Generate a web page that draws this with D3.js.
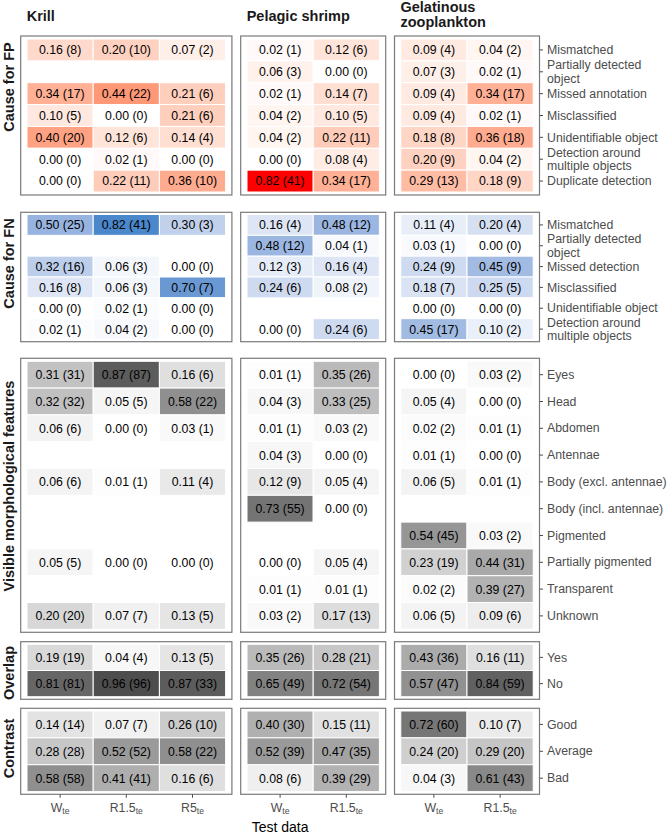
<!DOCTYPE html>
<html><head><meta charset="utf-8">
<script src="https://cdn.jsdelivr.net/npm/d3@7"></script>
<style>body{margin:0;background:#fff}svg{display:block;font-family:"Liberation Sans",Arial,Helvetica,sans-serif}</style>
</head><body><svg id="chart" width="670" height="834"></svg>
<script>
// ---------- DATA ----------
const species = ["Krill", "Pelagic shrimp", "Gelatinous zooplankton"];
const krillTests = ["W", "R1.5", "R5"];
const shrimpTests = ["W", "R1.5"];
const gelTests = ["W", "R1.5"];
const testSubscript = "te";

const fpCauses = ["Mismatched", "Partially detected object", "Missed annotation", "Misclassified", "Unidentifiable object", "Detection around multiple objects", "Duplicate detection"];
const fnCauses = ["Mismatched", "Partially detected object", "Missed detection", "Misclassified", "Unidentifiable object", "Detection around multiple objects"];
const morphFeatures = ["Eyes", "Head", "Abdomen", "Antennae", "Body (excl. antennae)", "Body (incl. antennae)", "Pigmented", "Partially pigmented", "Transparent", "Unknown"];
const overlapLevels = ["Yes", "No"];
const contrastLevels = ["Good", "Average", "Bad"];

// Cause for FP (rows = causes, cols = test sets); null = no tile
const fpKrillProp = [[0.16,0.20,0.07],[null,null,null],[0.34,0.44,0.21],[0.10,0.00,0.21],[0.40,0.12,0.14],[0.00,0.02,0.00],[0.00,0.22,0.36]];
const fpKrillN    = [[8,10,2],[null,null,null],[17,22,6],[5,0,6],[20,6,4],[0,1,0],[0,11,10]];
const fpShrimpProp = [[0.02,0.12],[0.06,0.00],[0.02,0.14],[0.04,0.10],[0.04,0.22],[0.00,0.08],[0.82,0.34]];
const fpShrimpN    = [[1,6],[3,0],[1,7],[2,5],[2,11],[0,4],[41,17]];
const fpGelProp = [[0.09,0.04],[0.07,0.02],[0.09,0.34],[0.09,0.02],[0.18,0.36],[0.20,0.04],[0.29,0.18]];
const fpGelN    = [[4,2],[3,1],[4,17],[4,1],[8,18],[9,2],[13,9]];

// Cause for FN
const fnKrillProp = [[0.50,0.82,0.30],[null,null,null],[0.32,0.06,0.00],[0.16,0.06,0.70],[0.00,0.02,0.00],[0.02,0.04,0.00]];
const fnKrillN    = [[25,41,3],[null,null,null],[16,3,0],[8,3,7],[0,1,0],[1,2,0]];
const fnShrimpProp = [[0.16,0.48],[0.48,0.04],[0.12,0.16],[0.24,0.08],[null,null],[0.00,0.24]];
const fnShrimpN    = [[4,12],[12,1],[3,4],[6,2],[null,null],[0,6]];
const fnGelProp = [[0.11,0.20],[0.03,0.00],[0.24,0.45],[0.18,0.25],[0.00,0.00],[0.45,0.10]];
const fnGelN    = [[4,4],[1,0],[9,9],[7,5],[0,0],[17,2]];

// Visible morphological features
const morphKrillProp = [[0.31,0.87,0.16],[0.32,0.05,0.58],[0.06,0.00,0.03],[null,null,null],[0.06,0.01,0.11],[null,null,null],[null,null,null],[0.05,0.00,0.00],[null,null,null],[0.20,0.07,0.13]];
const morphKrillN    = [[31,87,6],[32,5,22],[6,0,1],[null,null,null],[6,1,4],[null,null,null],[null,null,null],[5,0,0],[null,null,null],[20,7,5]];
const morphShrimpProp = [[0.01,0.35],[0.04,0.33],[0.01,0.03],[0.04,0.00],[0.12,0.05],[0.73,0.00],[null,null],[0.00,0.05],[0.01,0.01],[0.03,0.17]];
const morphShrimpN    = [[1,26],[3,25],[1,2],[3,0],[9,4],[55,0],[null,null],[0,4],[1,1],[2,13]];
const morphGelProp = [[0.00,0.03],[0.05,0.00],[0.02,0.01],[0.01,0.00],[0.06,0.01],[null,null],[0.54,0.03],[0.23,0.44],[0.02,0.39],[0.06,0.09]];
const morphGelN    = [[0,2],[4,0],[2,1],[1,0],[5,1],[null,null],[45,2],[19,31],[2,27],[5,6]];

// Overlap
const overlapKrillProp = [[0.19,0.04,0.13],[0.81,0.96,0.87]];
const overlapKrillN    = [[19,4,5],[81,96,33]];
const overlapShrimpProp = [[0.35,0.28],[0.65,0.72]];
const overlapShrimpN    = [[26,21],[49,54]];
const overlapGelProp = [[0.43,0.16],[0.57,0.84]];
const overlapGelN    = [[36,11],[47,59]];

// Contrast
const contrastKrillProp = [[0.14,0.07,0.26],[0.28,0.52,0.58],[0.58,0.41,0.16]];
const contrastKrillN    = [[14,7,10],[28,52,22],[58,41,6]];
const contrastShrimpProp = [[0.40,0.15],[0.52,0.47],[0.08,0.39]];
const contrastShrimpN    = [[30,11],[39,35],[6,29]];
const contrastGelProp = [[0.72,0.10],[0.24,0.29],[0.04,0.61]];
const contrastGelN    = [[60,7],[20,20],[3,43]];

// ---------- LAYOUT ----------
const svg = d3.select("#chart");
const FONT_CELL = 12.3, FONT_AXIS = 12.3, FONT_STRIP = 14.5;
const AXIS_GREY = "#4d4d4d", BORDER = "#7a7a7a";
const colW = 66.2, padX = 6.3, gapX = 8.8, leftX = 20.7;

const speciesTests = [krillTests, shrimpTests, gelTests];
let cx = leftX;
const cols = species.map((s, i) => {
  const w = speciesTests[i].length * colW + 2 * padX;
  const c = {name: s, tests: speciesTests[i], x0: cx, x1: cx + w};
  c.x = d3.scaleBand().domain(c.tests).range([c.x0 + padX, c.x1 - padX]);
  cx += w + gapX;
  return c;
});

const flat = arrs => arrs.flat(2).filter(v => v != null);
const fpMax = d3.max(flat([fpKrillProp, fpShrimpProp, fpGelProp]));
const fnMax = d3.max(flat([fnKrillProp, fnShrimpProp, fnGelProp]));
const greyMax = d3.max(flat([morphKrillProp, morphShrimpProp, morphGelProp, overlapKrillProp, overlapShrimpProp, overlapGelProp, contrastKrillProp, contrastShrimpProp, contrastGelProp]));
const redScale = d3.scaleLinear().domain([0, fpMax]).range(["#ffffff", "#ff0000"]).interpolate(d3.interpolateLab);
const blueScale = d3.scaleLinear().domain([0, fnMax]).range(["#ffffff", "#4a87cb"]).interpolate(d3.interpolateLab);
const greyScale = d3.scaleLinear().domain([0, greyMax]).range(["#ffffff", "#4d4d4d"]).interpolate(d3.interpolateLab);

const rows = [
  {label: "Cause for FP", labelY: 87, levels: fpCauses, top: 36, bottom: 195, pad: 3, color: redScale,
   props: [fpKrillProp, fpShrimpProp, fpGelProp], ns: [fpKrillN, fpShrimpN, fpGelN]},
  {label: "Cause for FN", labelY: 263.5, levels: fnCauses, top: 212.3, bottom: 341.7, pad: 2.2, color: blueScale,
   props: [fnKrillProp, fnShrimpProp, fnGelProp], ns: [fnKrillN, fnShrimpN, fnGelN]},
  {label: "Visible morphological features", labelY: 486, levels: morphFeatures, top: 358.3, bottom: 632.3, pad: 3, color: greyScale,
   props: [morphKrillProp, morphShrimpProp, morphGelProp], ns: [morphKrillN, morphShrimpN, morphGelN]},
  {label: "Overlap", labelY: 673, levels: overlapLevels, top: 641.7, bottom: 699.3, pad: 2.6, color: greyScale,
   props: [overlapKrillProp, overlapShrimpProp, overlapGelProp], ns: [overlapKrillN, overlapShrimpN, overlapGelN]},
  {label: "Contrast", labelY: 748.5, levels: contrastLevels, top: 708.3, bottom: 794.3, pad: 2.7, color: greyScale,
   props: [contrastKrillProp, contrastShrimpProp, contrastGelProp], ns: [contrastKrillN, contrastShrimpN, contrastGelN]}
];

function wrap(str, maxChars) {
  const words = str.split(" "); const lines = []; let cur = "";
  words.forEach(w => {
    if (cur && (cur + " " + w).length > maxChars) { lines.push(cur); cur = w; }
    else cur = cur ? cur + " " + w : w;
  });
  if (cur) lines.push(cur);
  return lines;
}

// Column titles
cols.forEach(c => {
  const lines = wrap(c.name, 20);
  const t = svg.append("text").attr("x", c.x0 + 6).attr("y", lines.length > 1 ? 11.5 : 20.5)
    .attr("font-size", FONT_STRIP).attr("font-weight", "bold").attr("fill", "#1a1a1a");
  lines.forEach((l, i) => t.append("tspan").attr("x", c.x0 + 6).attr("dy", i ? 15.8 : 0).text(l));
});

rows.forEach(r => {
  const y = d3.scaleBand().domain(r.levels).range([r.top + r.pad, r.bottom - r.pad]);
  cols.forEach((c, ci) => {
    const g = svg.append("g");
    const cells = [];
    r.props[ci].forEach((rowVals, ri) => rowVals.forEach((v, ti) => {
      if (v != null) cells.push({level: r.levels[ri], test: c.tests[ti], p: v, n: r.ns[ci][ri][ti]});
    }));
    g.selectAll("rect.tile").data(cells).join("rect").attr("class", "tile")
      .attr("x", d => c.x(d.test)).attr("y", d => y(d.level))
      .attr("width", c.x.bandwidth()).attr("height", y.bandwidth())
      .attr("fill", d => r.color(d.p)).attr("stroke", "#ffffff").attr("stroke-width", 1);
    g.selectAll("text.cell").data(cells).join("text").attr("class", "cell")
      .attr("x", d => c.x(d.test) + c.x.bandwidth() / 2).attr("y", d => y(d.level) + y.bandwidth() / 2)
      .attr("dy", "0.36em").attr("text-anchor", "middle").attr("font-size", FONT_CELL).attr("fill", "#000")
      .text(d => `${d.p.toFixed(2)} (${d.n})`);
    g.append("rect").attr("x", c.x0).attr("y", r.top).attr("width", c.x1 - c.x0).attr("height", r.bottom - r.top)
      .attr("fill", "none").attr("stroke", BORDER).attr("stroke-width", 1.2);

    if (ci === cols.length - 1) {
      const ax = svg.append("g").attr("transform", `translate(${c.x1},0)`)
        .call(d3.axisRight(y).tickSize(3.5).tickPadding(4));
      ax.attr("font-family", null).attr("font-size", null);
      ax.select(".domain").remove();
      ax.selectAll("line").attr("stroke", AXIS_GREY);
      ax.selectAll("text").attr("font-size", FONT_AXIS).attr("fill", AXIS_GREY)
        .each(function(d) {
          const lines = wrap(d, 21);
          const t = d3.select(this); const xx = t.attr("x");
          t.text(null).attr("dy", null);
          lines.forEach((l, i) => t.append("tspan").attr("x", xx)
            .attr("dy", i === 0 ? (0.34 - (lines.length - 1) * 0.54) + "em" : "1.08em").text(l));
        });
    }
    if (r === rows[rows.length - 1]) {
      const ax = svg.append("g").attr("transform", `translate(0,${r.bottom})`)
        .call(d3.axisBottom(c.x).tickSize(3.5).tickPadding(5));
      ax.attr("font-family", null).attr("font-size", null);
      ax.select(".domain").remove();
      ax.selectAll("line").attr("stroke", AXIS_GREY);
      ax.selectAll("text").attr("font-size", FONT_AXIS).attr("fill", AXIS_GREY)
        .attr("dy", null).attr("y", 18)
        .each(function(d) {
          const t = d3.select(this); t.text(null);
          t.append("tspan").text(d);
          t.append("tspan").attr("font-size", 8.6).attr("dy", "0.25em").text(testSubscript);
        });
    }
  });
  svg.append("text").attr("transform", `translate(14,${r.labelY}) rotate(-90)`)
    .attr("text-anchor", "middle").attr("font-size", FONT_STRIP).attr("font-weight", "bold").attr("fill", "#1a1a1a")
    .text(r.label);
});

svg.append("text").attr("x", (cols[0].x0 + cols[cols.length - 1].x1) / 2).attr("y", 832)
  .attr("text-anchor", "middle").attr("font-size", 14).attr("fill", "#000").text("Test data");
</script></body></html>
